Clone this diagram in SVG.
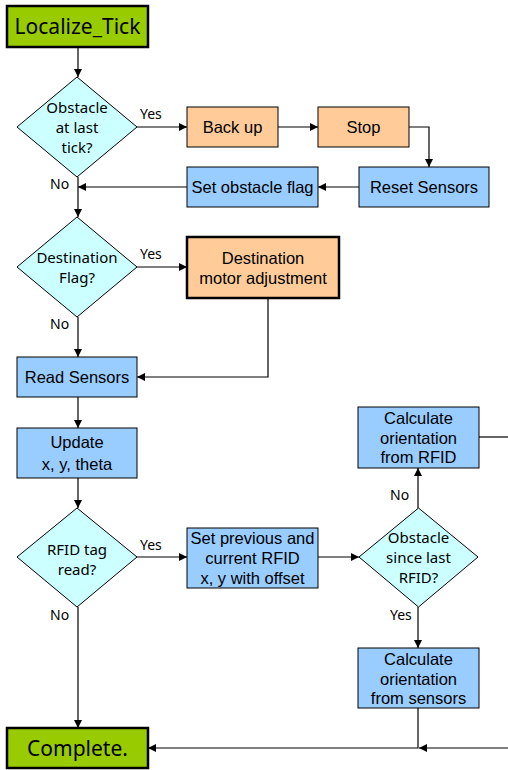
<svg xmlns="http://www.w3.org/2000/svg" width="508" height="770" viewBox="0 0 508 770">
<defs>
<marker id="ah" viewBox="0 0 10 10" refX="10" refY="5" markerWidth="8" markerHeight="8" markerUnits="userSpaceOnUse" orient="auto">
<path d="M0,0 L10,5 L0,10 Z" fill="#000"/>
</marker>
<style>
.term{fill:#99cc00;stroke:#000;stroke-width:2.5}
.dec{fill:#ccffff;stroke:#000;stroke-width:1}
.blue{fill:#99ccff;stroke:#000;stroke-width:1}
.orange{fill:#ffcc99;stroke:#000;stroke-width:1}
.orangeb{fill:#ffcc99;stroke:#000;stroke-width:2.5}
.tt{font-family:"Noto Sans","DejaVu Sans",sans-serif;font-size:21px;fill:#000;text-anchor:middle}
.dt{font-family:"Noto Sans","DejaVu Sans",sans-serif;font-size:15px;fill:#000;text-anchor:middle}
.lbl{font-family:"Noto Sans","DejaVu Sans",sans-serif;font-size:14px;fill:#000}
.bt{font-family:"Liberation Sans",Arial,sans-serif;font-size:16.5px;fill:#000;text-anchor:middle}
.ln{fill:none;stroke:#000;stroke-width:1.2}
</style>
</defs>
<g id="connectors">
<path class="ln" d="M78,47 V77" marker-end="url(#ah)"/>
<path class="ln" d="M137,127 H187" marker-end="url(#ah)"/>
<path class="ln" d="M278,127 H318" marker-end="url(#ah)"/>
<path class="ln" d="M409,127 H429 V167" marker-end="url(#ah)"/>
<path class="ln" d="M359,187 H318" marker-end="url(#ah)"/>
<path class="ln" d="M187,187 H78" marker-end="url(#ah)"/>
<path class="ln" d="M78,177 V217" marker-end="url(#ah)"/>
<path class="ln" d="M137,267 H187" marker-end="url(#ah)"/>
<path class="ln" d="M78,317 V357" marker-end="url(#ah)"/>
<path class="ln" d="M268,298 V377 H137" marker-end="url(#ah)"/>
<path class="ln" d="M78,397 V428" marker-end="url(#ah)"/>
<path class="ln" d="M78,478 V508" marker-end="url(#ah)"/>
<path class="ln" d="M137,557 H187" marker-end="url(#ah)"/>
<path class="ln" d="M318,557 H359" marker-end="url(#ah)"/>
<path class="ln" d="M418,508 V468" marker-end="url(#ah)"/>
<path class="ln" d="M479,437 H508"/>
<path class="ln" d="M418,607 V648" marker-end="url(#ah)"/>
<path class="ln" d="M418,708 V748 H148" marker-end="url(#ah)"/>
<path class="ln" d="M508,748 H419" marker-end="url(#ah)"/>
<path class="ln" d="M78,607 V728" marker-end="url(#ah)"/>
<text class="lbl" x="140" y="119">Yes</text>
<text class="lbl" x="50" y="189">No</text>
<text class="lbl" x="140" y="259">Yes</text>
<text class="lbl" x="50" y="329">No</text>
<text class="lbl" x="140" y="550">Yes</text>
<text class="lbl" x="50" y="620">No</text>
<text class="lbl" x="390" y="500">No</text>
<text class="lbl" x="390" y="620">Yes</text>
</g>
<g id="localize_tick">
<rect class="term" x="7" y="6" width="141" height="41"/>
<text class="tt" x="77.5" y="34">Localize_Tick</text>
</g>
<g id="obstacle_last_tick">
<polygon class="dec" points="77,77 137,127 77,177 17,127"/>
<text class="dt" x="77" y="113">Obstacle</text>
<text class="dt" x="77" y="133">at last</text>
<text class="dt" x="77" y="153">tick?</text>
</g>
<g id="back_up">
<rect class="orange" x="187" y="107" width="91" height="40"/>
<text class="bt" x="232.5" y="133">Back up</text>
</g>
<g id="stop">
<rect class="orange" x="318" y="107" width="91" height="40"/>
<text class="bt" x="363.5" y="133">Stop</text>
</g>
<g id="reset_sensors">
<rect class="blue" x="359" y="167" width="130" height="40"/>
<text class="bt" x="424" y="193">Reset Sensors</text>
</g>
<g id="set_obstacle_flag">
<rect class="blue" x="187" y="167" width="131" height="40"/>
<text class="bt" x="252.5" y="193">Set obstacle flag</text>
</g>
<g id="destination_flag">
<polygon class="dec" points="77,217 137,267 77,317 17,267"/>
<text class="dt" x="77" y="263">Destination</text>
<text class="dt" x="77" y="283">Flag?</text>
</g>
<g id="destination_motor">
<rect class="orangeb" x="187" y="237" width="152" height="61"/>
<text class="bt" x="263" y="264">Destination</text>
<text class="bt" x="263" y="284">motor adjustment</text>
</g>
<g id="read_sensors">
<rect class="blue" x="17" y="357" width="120" height="40"/>
<text class="bt" x="77" y="383">Read Sensors</text>
</g>
<g id="update_xy">
<rect class="blue" x="17" y="428" width="120" height="50"/>
<text class="bt" x="77" y="448">Update</text>
<text class="bt" x="77" y="470">x, y, theta</text>
</g>
<g id="rfid_read">
<polygon class="dec" points="77,508 137,557 77,607 17,557"/>
<text class="dt" x="77" y="555">RFID tag</text>
<text class="dt" x="77" y="575">read?</text>
</g>
<g id="set_previous">
<rect class="blue" x="187" y="528" width="131" height="60"/>
<text class="bt" x="252.5" y="544">Set previous and</text>
<text class="bt" x="252.5" y="564">current RFID</text>
<text class="bt" x="252.5" y="584">x, y with offset</text>
</g>
<g id="obstacle_since">
<polygon class="dec" points="418.5,508 478,557 418.5,607 359,557"/>
<text class="dt" x="418.5" y="543">Obstacle</text>
<text class="dt" x="418.5" y="563">since last</text>
<text class="dt" x="418.5" y="583">RFID?</text>
</g>
<g id="calc_rfid">
<rect class="blue" x="358" y="407" width="121" height="61"/>
<text class="bt" x="418.5" y="424">Calculate</text>
<text class="bt" x="418.5" y="444">orientation</text>
<text class="bt" x="418.5" y="463">from RFID</text>
</g>
<g id="calc_sensors">
<rect class="blue" x="358" y="648" width="121" height="60"/>
<text class="bt" x="418.5" y="665">Calculate</text>
<text class="bt" x="418.5" y="685">orientation</text>
<text class="bt" x="418.5" y="704">from sensors</text>
</g>
<g id="complete">
<rect class="term" x="7" y="728" width="141" height="40"/>
<text class="tt" x="77.5" y="756">Complete.</text>
</g>
</svg>
